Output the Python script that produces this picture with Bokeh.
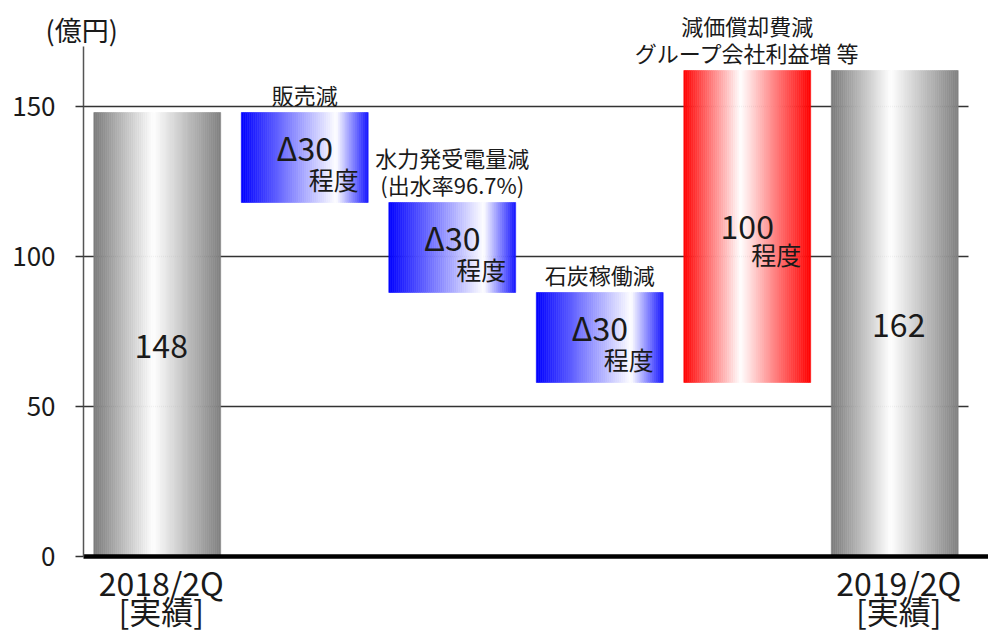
import numpy as np
from bokeh.plotting import figure
from bokeh.models import Range1d, FixedTicker, ColumnDataSource
from bokeh.core.properties import value
from bokeh.embed import file_html
from bokeh.resources import INLINE

# ---------------- data ----------------
start_label = ["2018/2Q", "[実績]"]
end_label = ["2019/2Q", "[実績]"]
start_value = 148
end_value = 162
step_values = [-30, -30, -30, 104]
step_main_text = ["Δ30", "Δ30", "Δ30", "100"]
step_sub_text = ["程度", "程度", "程度", "程度"]
step_captions = [["販売減"],
                 ["水力発受電量減", "(出水率96.7%)"],
                 ["石炭稼働減"],
                 ["減価償却費減", "グループ会社利益増 等"]]
y_ticks = [0, 50, 100, 150]
y_axis_top = 170
unit_label = "(億円)"

# ---------------- styles ----------------
FONT = "Noto Sans CJK JP"
TXT = "#1a1a1a"
BAR_W = 0.86
N_STRIPS = 64
GRAY_STOPS = [(0.0, (122, 122, 122)), (0.47, (255, 255, 255)), (1.0, (128, 128, 128))]
BLUE_STOPS = [(0.0, (0, 0, 255)), (0.75, (255, 255, 255)), (1.0, (20, 20, 255))]
RED_STOPS = [(0.0, (255, 0, 0)), (0.45, (255, 255, 255)), (1.0, (255, 0, 0))]


def grad_color(stops, t):
    for (t0, c0), (t1, c1) in zip(stops[:-1], stops[1:]):
        if t <= t1:
            f = (t - t0) / (t1 - t0)
            c = [int(round(a + (b - a) * f)) for a, b in zip(c0, c1)]
            return "#%02x%02x%02x" % tuple(c)
    return "#%02x%02x%02x" % stops[-1][1]


# ---------------- bar geometry from data ----------------
n_cat = len(step_values) + 2
centers = [i + 0.5 for i in range(n_cat)]
bottoms, tops, kinds = [0], [start_value], ["total"]
level = start_value
for d in step_values:
    new = level + d
    bottoms.append(min(level, new))
    tops.append(max(level, new))
    kinds.append("down" if d < 0 else "up")
    level = new
bottoms.append(0)
tops.append(end_value)
kinds.append("total")

# ---------------- figure ----------------
px_per_cat = 147.5
left_px = 83
x_start = -left_px / px_per_cat
x_end = (988 - left_px) / px_per_cat
p = figure(width=988, height=631, output_backend="svg", toolbar_location=None,
           x_range=Range1d(x_start, x_end), y_range=Range1d(-25, 556 / 3),
           x_axis_location=None, min_border_left=0, min_border_right=0,
           min_border_top=0, min_border_bottom=0)
p.outline_line_color = None
p.xgrid.visible = False
p.ygrid.visible = False
p.background_fill_color = "white"

yax = p.yaxis[0]
yax.fixed_location = 0
yax.ticker = FixedTicker(ticks=y_ticks)
yax.bounds = (0, y_axis_top)
yax.axis_line_color = "#555555"
yax.axis_line_width = 1.5
yax.major_tick_out = 8
yax.major_tick_in = 0
yax.minor_tick_out = 0
yax.minor_tick_in = 0
yax.major_tick_line_color = "#333333"
yax.major_tick_line_width = 1.3
yax.major_label_text_font = FONT
yax.major_label_text_font_size = "26px"
yax.major_label_text_color = TXT
yax.major_label_standoff = 20

# grid lines
grid_y = [t for t in y_ticks if t > 0]
p.segment(x0=[0] * len(grid_y), x1=[n_cat] * len(grid_y), y0=grid_y, y1=grid_y,
          line_color="#333333", line_width=1.3)

# gradient bars as thin strips
sl, sr, sb, st, sc = [], [], [], [], []
for c, b, t, k in zip(centers, bottoms, tops, kinds):
    stops = GRAY_STOPS if k == "total" else (BLUE_STOPS if k == "down" else RED_STOPS)
    x0 = c - BAR_W / 2
    w = BAR_W / N_STRIPS
    for j in range(N_STRIPS):
        sl.append(x0 + j * w)
        sr.append(x0 + (j + 1) * w)
        sb.append(b)
        st.append(t)
        sc.append(grad_color(stops, (j + 0.5) / N_STRIPS))
p.quad(left=sl, right=sr, bottom=sb, top=st, fill_color=sc, line_color=sc, line_width=0.6)

# zero line
p.segment(x0=[0], x1=[x_end], y0=[0], y1=[0], line_color="black", line_width=4.5)

# totals labels
tot_idx = [0, n_cat - 1]
p.text(x=[centers[i] for i in tot_idx], y=[tops[i] / 2 for i in tot_idx],
       text=[str(start_value), str(end_value)], x_offset=4, y_offset=11,
       text_align="center", text_baseline="middle", text_font=value(FONT),
       text_font_size=value("32px"), text_color=TXT)

# category labels below axis
for lines, i in ((start_label, 0), (end_label, n_cat - 1)):
    for k, line in enumerate(lines):
        p.text(x=[centers[i]], y=[0], text=[line], x_offset=4, y_offset=25 + 28 * k,
               text_align="center", text_baseline="middle", text_font=value(FONT),
               text_font_size=value("32px"), text_color=TXT)

# step labels
for s, d in enumerate(step_values):
    i = s + 1
    mid = (bottoms[i] + tops[i]) / 2
    off_main, off_sub = (-11, 21) if d < 0 else (0, 27)
    p.text(x=[centers[i]], y=[mid], text=[step_main_text[s]], y_offset=off_main,
           text_align="center", text_baseline="middle", text_font=value(FONT),
           text_font_size=value("32px"), text_color=TXT)
    p.text(x=[centers[i]], y=[mid], text=[step_sub_text[s]], x_offset=29, y_offset=off_sub,
           text_align="center", text_baseline="middle", text_font=value(FONT),
           text_font_size=value("25px"), text_color=TXT)
    cap = step_captions[s]
    ncap = len(cap)
    for k, line in enumerate(cap):
        p.text(x=[centers[i]], y=[tops[i]], text=[line], y_offset=-19 - 27 * (ncap - 1 - k),
               text_align="center", text_baseline="middle", text_font=value(FONT),
               text_font_size=value("22px"), text_color=TXT)

# unit label (above the value axis)
p.text(x=[0], y=[y_axis_top], text=[unit_label], x_offset=-38, y_offset=-17,
       text_align="left", text_baseline="middle", text_font=value(FONT),
       text_font_size=value("27px"), text_color=TXT)

open("out.html", "w").write(file_html(p, INLINE))
